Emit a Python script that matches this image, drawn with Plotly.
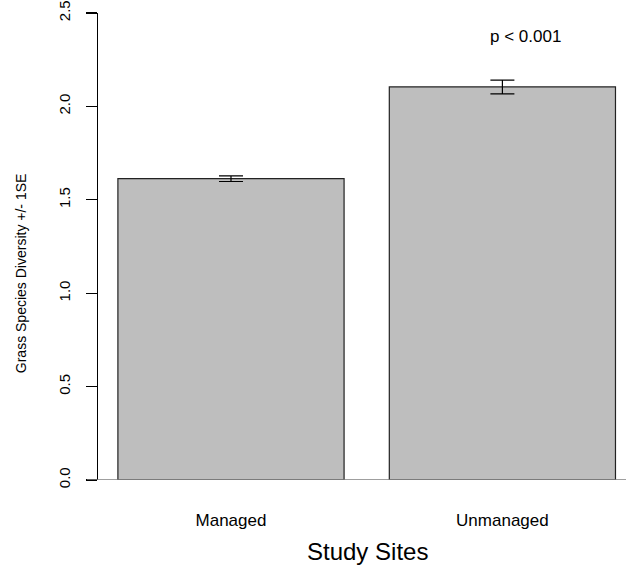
import plotly.graph_objects as go

# ---- data ----
categories = ["Managed", "Unmanaged"]
means = [1.613, 2.104]
se = [0.015, 0.037]
bar_x = [0.7, 1.9]          # R barplot midpoints (width 1, space 0.2)
y_ticks = [0.0, 0.5, 1.0, 1.5, 2.0, 2.5]
y_tick_labels = ["0.0", "0.5", "1.0", "1.5", "2.0", "2.5"]
p_text = "p < 0.001"

FONT = "Liberation Sans, Arial, Helvetica, sans-serif"

fig = go.Figure()
fig.add_trace(go.Bar(
    x=bar_x, y=means, width=1.0,
    marker=dict(color="#BEBEBE", line=dict(color="#222222", width=1.2)),
    error_y=dict(type="data", array=se, visible=True, color="black",
                 thickness=1.2, width=12),
    hoverinfo="skip",
))

# baseline at y = 0 (gray, like R's barplot axis.lty)
fig.add_shape(type="line", xref="paper", yref="y",
              x0=-11 / 528, x1=1.0, y0=0, y1=0,
              line=dict(color="#7f7f7f", width=1.3))

fig.add_annotation(text=p_text, x=2.0, y=2.375, xref="x", yref="y",
                   showarrow=False, font=dict(family=FONT, size=17, color="black"))

fig.add_annotation(text="Grass Species Diversity +/- 1SE", textangle=-90,
                   xref="paper", yref="y", x=-77 / 528, y=1.107,
                   xanchor="center", yanchor="middle", showarrow=False,
                   font=dict(family=FONT, size=14, color="black"))

fig.add_annotation(text="Study Sites", xref="paper", yref="paper",
                   x=(367 - 98) / 528, y=-(551 - 480) / 467,
                   xanchor="center", yanchor="middle", showarrow=False,
                   font=dict(family=FONT, size=24, color="black"))

fig.update_layout(
    width=626, height=569,
    margin=dict(l=98, r=0, t=13, b=89),
    paper_bgcolor="white", plot_bgcolor="white",
    showlegend=False,
    font=dict(family=FONT, color="black"),
    xaxis=dict(range=[0.112, 2.4465], tickvals=bar_x, ticktext=categories,
               showline=False, showgrid=False, zeroline=False, ticks="",
               ticklabelstandoff=28, tickfont=dict(family=FONT, size=17)),
    yaxis=dict(range=[0, 2.5], tickvals=y_ticks, ticktext=y_tick_labels,
               showline=True, linecolor="black", linewidth=1.2,
               ticks="outside", ticklen=11, tickcolor="black", tickwidth=1.2,
               tickangle=-90, showgrid=False, zeroline=False,
               ticklabelstandoff=10, tickfont=dict(family=FONT, size=15)),
)

fig.write_html("out.html",
               config={"displayModeBar": False, "staticPlot": True},
               post_script="document.body.style.margin='0';document.body.style.overflow='hidden';")
